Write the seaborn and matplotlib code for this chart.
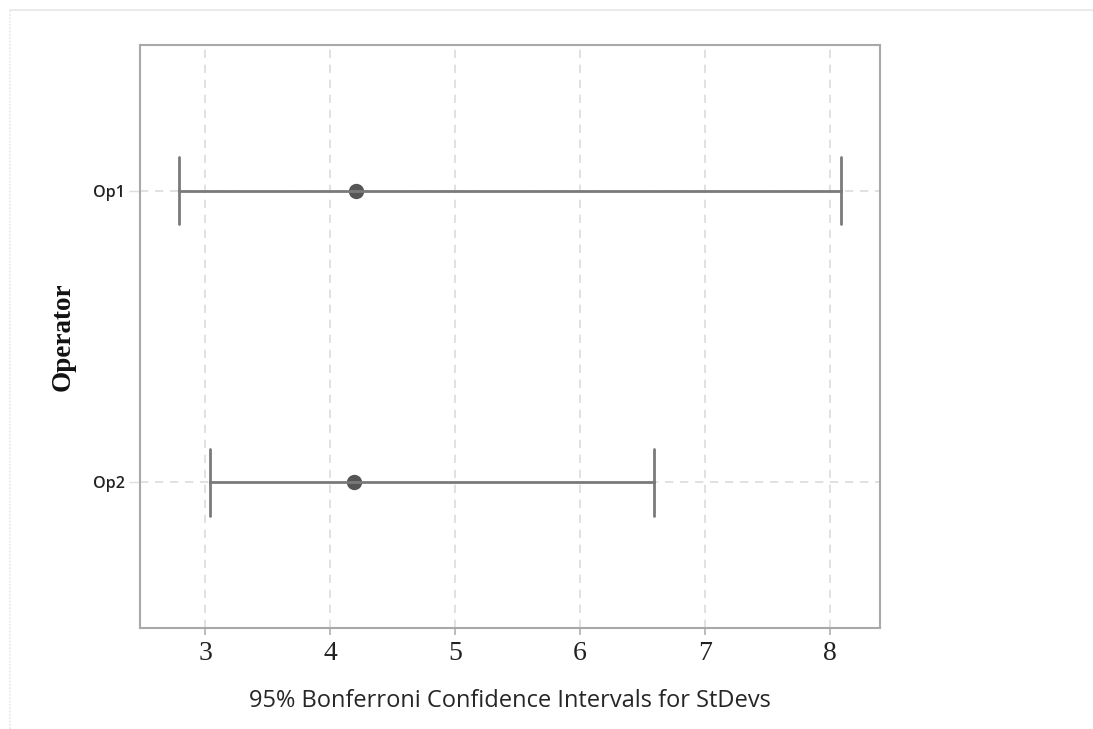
import matplotlib
matplotlib.use("Agg")
import matplotlib.pyplot as plt
import seaborn as sns
import pandas as pd
import numpy as np
from matplotlib.lines import Line2D

operators = ["Op1", "Op2"]
lower = [2.79, 3.04]
estimate = [4.21, 4.19]
upper = [8.09, 6.59]
xticks = [3, 4, 5, 6, 7, 8]

rows = []
for op, lo, est, hi in zip(operators, lower, estimate, upper):
    for v in (lo, est, hi):
        rows.append({"Operator": op, "StDev": v})
df = pd.DataFrame(rows)

sns.set_theme(style="white")

fig = plt.figure(figsize=(10.93, 7.29), dpi=100)
ax = fig.add_axes([140/1093, 1 - 628/729, (880-140)/1093, (628-45)/729])

sns.pointplot(
    data=df, x="StDev", y="Operator", order=operators,
    estimator=np.median,
    errorbar=lambda v: (np.min(v), np.max(v)),
    linestyle="none", color="#555555", capsize=0.23,
    err_kws={"linewidth": 2.0, "color": "#7a7a7a"},
    markersize=9, ax=ax,
)
for coll in ax.collections:
    coll.set_zorder(5)

ax.set_xlim(2.48, 8.4)
ax.set_ylim(1.5, -0.5)
ax.set_xticks(xticks)
ax.set_xticklabels([str(t) for t in xticks], fontfamily="Liberation Serif", fontsize=20, color="#222222")
ax.set_yticks(range(len(operators)))
ax.set_yticklabels(operators, fontfamily="Open Sans", fontweight="semibold", fontsize=11.5, color="#222222")

ax.grid(True, axis="both", linestyle=(0, (5, 4)), color="#dcdcdc", linewidth=1.2)
ax.set_axisbelow(True)

for s in ax.spines.values():
    s.set_color("#a9a9a9")
    s.set_linewidth(1.5)

ax.tick_params(axis="x", which="both", bottom=True, length=5, width=1.2, color="#b0b0b0", pad=4)
ax.tick_params(axis="y", which="both", left=True, length=8, width=1.0, color="#dddddd", pad=3)

ax.set_xlabel("95% Bonferroni Confidence Intervals for StDevs", fontfamily="Open Sans",
              fontweight="medium", fontsize=17, color="#262626", labelpad=17)
ax.set_ylabel("Operator", fontfamily="Liberation Serif", fontweight="bold",
              fontsize=19.5, color="#111111", labelpad=12)

# outer light frame (top and left)
fig.add_artist(Line2D([10/1093, 1], [1 - 10/729, 1 - 10/729], transform=fig.transFigure,
                      color="#e6e6e6", linewidth=1.2))
fig.add_artist(Line2D([10/1093, 10/1093], [0, 1 - 10/729], transform=fig.transFigure,
                      color="#e6e6e6", linewidth=1.2, linestyle=(0, (1, 1))))

fig.savefig("out.png", dpi=100)
